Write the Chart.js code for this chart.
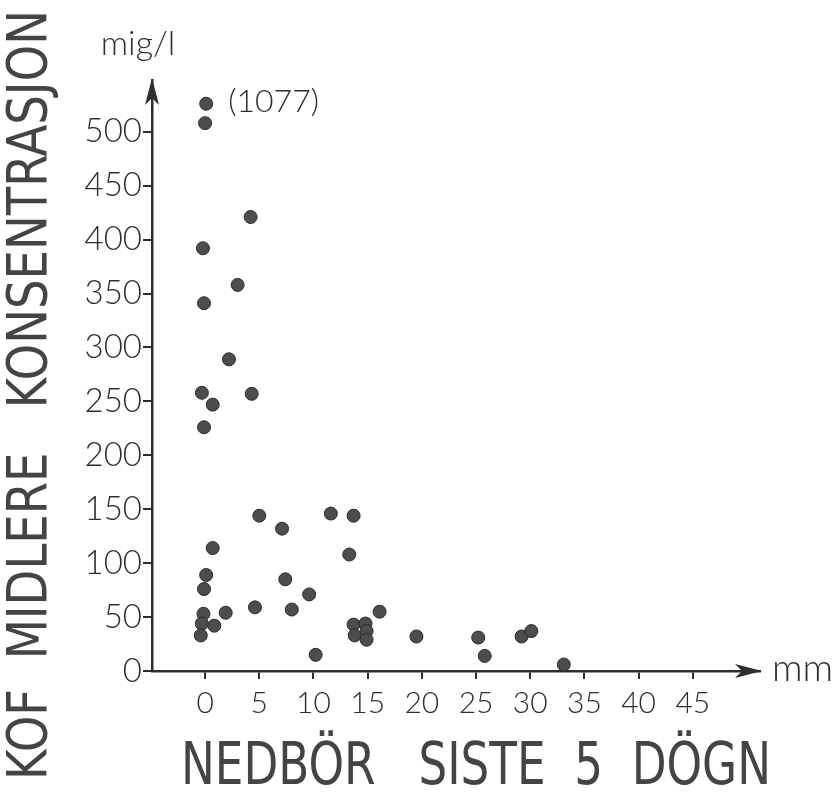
<!DOCTYPE html>
<html>
<head>
<meta charset="utf-8">
<script src="https://cdn.jsdelivr.net/npm/chart.js@4/dist/chart.umd.min.js"></script>
<style>
  html, body { margin: 0; padding: 0; background: #fff; }
  #wrap { width: 834px; height: 802px; }
</style>
</head>
<body>
<div id="wrap"><canvas id="myChart"></canvas></div>
<script>
function $(id) {
  return document.getElementById(id);
}

// Data (mm rain last 5 days vs. COD mg/l)
const rain = [
  0.1, 0, 4.2, -0.2, 3.0, -0.1, 2.2, -0.3, 4.3, 0.7, -0.1,
  5.0, 7.1, 11.6, 13.7, 13.3, 0.7, 0.1, -0.1, 7.4, 9.6, 8.0, 4.6, 1.9,
  -0.15, -0.3, 0.85, -0.4,
  16.1, 10.2, 13.7, 14.8, 13.8, 14.9, 14.9, 19.5,
  25.2, 25.8, 29.2, 30.1, 33.1
];
const cod = [
  526, 508, 421, 392, 358, 341, 289, 258, 257, 247, 226,
  144, 132, 146, 144, 108, 114, 89, 76, 85, 71, 57, 59, 54,
  53, 44, 42, 33,
  55, 15, 43, 44, 33, 37, 29, 32,
  31, 14, 32, 37, 6
];
const outlierLabel = "(1077)"; // first point is drawn at the top of the scale
const xTicks = [0, 5, 10, 15, 20, 25, 30, 35, 40, 45];
const yTicks = [0, 50, 100, 150, 200, 250, 300, 350, 400, 450, 500];
const xTitle = "NEDBÖR   SISTE  5  DÖGN";
const yTitle = "KOF  MIDLERE   KONSENTRASJON";
const yUnit = "mig/l";
const xUnit = "mm";

const INK = "#2e2e2e";
const TITLE_INK = "#444";

// fit a string to a given width by squeezing it horizontally
function fitText(c, text, cx, cy, width, rotate) {
  c.save();
  c.translate(cx, cy);
  if (rotate) c.rotate(-Math.PI / 2);
  const w = c.measureText(text).width;
  c.scale(width / w, 1);
  c.textAlign = "center";
  c.textBaseline = "middle";
  c.fillText(text, 0, 0);
  c.restore();
}

const decorations = {
  id: "decorations",
  afterDraw(chart) {
    const c = chart.ctx;
    const a = chart.chartArea;
    c.save();
    c.fillStyle = INK;
    c.strokeStyle = INK;

    // arrow heads
    c.beginPath();
    c.moveTo(a.left, a.top - 2);
    c.lineTo(a.left - 7, a.top + 25);
    c.lineTo(a.left, a.top + 18);
    c.lineTo(a.left + 7, a.top + 25);
    c.closePath();
    c.fill();
    c.beginPath();
    c.moveTo(a.right + 2, a.bottom);
    c.lineTo(a.right - 25, a.bottom - 7);
    c.lineTo(a.right - 18, a.bottom);
    c.lineTo(a.right - 25, a.bottom + 7);
    c.closePath();
    c.fill();

    // units
    c.font = "300 34px Lato";
    c.textAlign = "center";
    c.textBaseline = "alphabetic";
    c.fillText(yUnit, a.left - 14, a.top - 25);
    c.font = "300 38px Lato";
    c.textAlign = "left";
    c.textBaseline = "middle";
    c.fillText(xUnit, a.right + 12, a.bottom - 2);

    // label for the off-scale point
    const meta = chart.getDatasetMeta(0).data[0];
    c.font = "300 32px Lato";
    c.textAlign = "left";
    c.fillText(outlierLabel, meta.x + 22, meta.y - 2);

    // axis titles
    c.fillStyle = TITLE_INK;
    c.font = "400 58px 'Liberation Sans Narrow', 'DejaVu Sans Condensed', 'Liberation Sans'";
    fitText(c, xTitle, 476, 769, 590, false);
    c.font = "400 56px 'Liberation Sans Narrow', 'DejaVu Sans Condensed', 'Liberation Sans'";
    fitText(c, yTitle, 31, 395, 770, true);
    c.restore();
  }
};

window.onload = function() {
  const ctx = $("myChart").getContext("2d");
  new Chart(ctx, {
    type: "scatter",
    data: {
      datasets: [{
        data: rain.map((x, i) => ({ x: x, y: cod[i] })),
        pointRadius: 6.5,
        pointBackgroundColor: "#4d4d4d",
        pointBorderColor: "#2b2b2b",
        pointBorderWidth: 1
      }]
    },
    options: {
      responsive: true,
      maintainAspectRatio: false,
      animation: false,
      layout: { padding: { top: 80, right: 74, left: 0, bottom: 0 } },
      plugins: {
        legend: { display: false },
        tooltip: { enabled: false }
      },
      scales: {
        x: {
          type: "linear",
          min: -4.9,
          max: 51.2,
          afterBuildTicks: s => { s.ticks = xTicks.map(v => ({ value: v })); },
          afterFit: s => { s.height = 131; },
          grid: { drawOnChartArea: false, drawTicks: true, tickLength: 8, color: INK, lineWidth: 2 },
          border: { display: true, color: INK, width: 2.5 },
          ticks: { color: INK, font: { family: "Lato", size: 30, weight: 300 }, padding: 6, maxRotation: 0 }
        },
        y: {
          type: "linear",
          min: 0,
          max: 548,
          afterBuildTicks: s => { s.ticks = yTicks.map(v => ({ value: v })); },
          afterFit: s => { s.width = 152; },
          grid: { drawOnChartArea: false, drawTicks: true, tickLength: 9, color: INK, lineWidth: 2 },
          border: { display: true, color: INK, width: 2.5 },
          ticks: { color: INK, font: { family: "Lato", size: 33, weight: 300 }, padding: 1 }
        }
      }
    },
    plugins: [decorations]
  });
};
</script>
</body>
</html>
